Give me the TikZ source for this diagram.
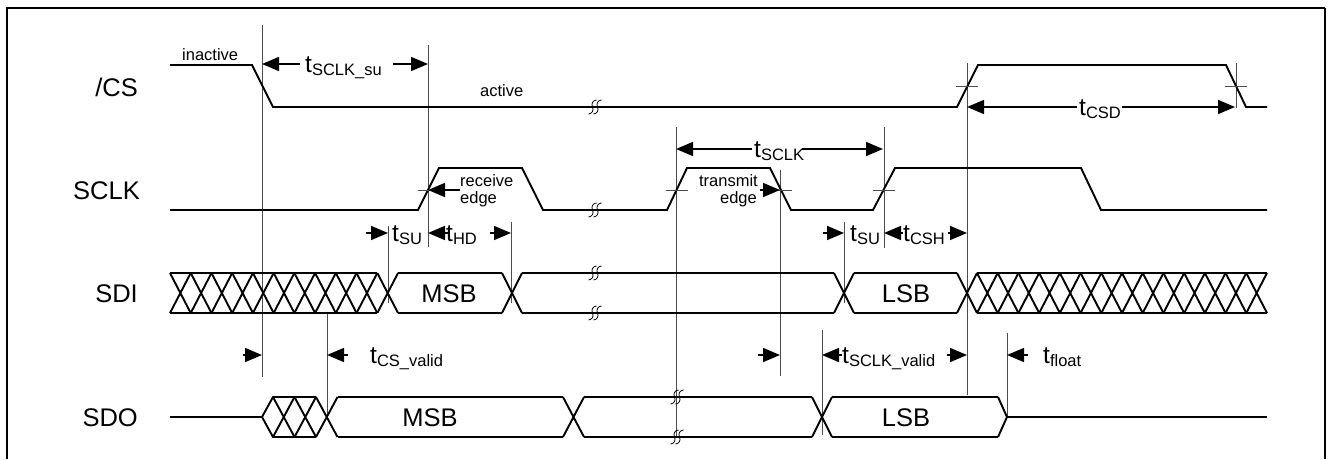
\documentclass[tikz,border=0pt]{standalone}
\usepackage{fontspec}
\setmainfont{Liberation Sans}
\usetikzlibrary{arrows.meta}
\newcommand{\tsub}[1]{{\fontsize{24.5}{24.5}\selectfont t}\raisebox{-3pt}{\fontsize{16.5}{16.5}\selectfont #1}}
\begin{document}
\begin{tikzpicture}[x=1pt,y=-1pt,
  sig/.style={line width=1.9pt},
  vref/.style={line width=0.9pt, black!70},
  tickln/.style={line width=0.9pt, black!70},
  dim/.style={line width=1.6pt, -{Triangle[length=17pt,width=14pt]}},
  big/.style={font=\fontsize{25.5}{25.5}\selectfont, inner sep=0pt},
  small/.style={font=\fontsize{16.5}{16.5}\selectfont, inner sep=0pt},
  tlab/.style={inner sep=0pt, anchor=base west},
  brkstroke/.style={line width=0.8pt},
  brk/.pic={
    \draw[brkstroke] (-6.5,7) .. controls (-2.9,6.75) and (-0.9,3.25) .. (-2.5,0) .. controls (-4.1,-3.25) and (-2.1,-6.75) .. (1.5,-7);
    \draw[brkstroke] (-1.5,7) .. controls (2.1,6.75) and (4.1,3.25) .. (2.5,0) .. controls (0.9,-3.25) and (2.9,-6.75) .. (6.5,-7);
  }]
\useasboundingbox (0,0) rectangle (1328,459);
% frame
\draw[line width=2pt] (6.5,459) -- (6.5,7.5) -- (1325,7.5);
\draw[line width=1.2pt] (1325,7.5) -- (1325,459);

% signal names
\node[big, anchor=base east] (lcs) at (138,96) {/CS};
\node[big, anchor=base east] (lsclk) at (140,199) {SCLK};
\node[big, anchor=base east] (lsdi) at (138,302) {SDI};
\node[big, anchor=base east] (lsdo) at (138,426) {SDO};

% reference verticals
\draw[vref] (262,25) -- (262,377);
\draw[vref] (428,45) -- (428,247);
\draw[vref] (388,226) -- (388,303);
\draw[vref] (511,222) -- (511,303);
\draw[vref] (327,313) -- (327,418);
\draw[vref] (676,127) -- (676,438);
\draw[vref] (780,170) -- (780,376);
\draw[vref] (884,127) -- (884,248);
\draw[vref] (844,222) -- (844,303);
\draw[vref] (822,330) -- (822,435);
\draw[vref] (967,63) -- (967,395);
\draw[vref] (1236,63) -- (1236,108);
\draw[vref] (1007,333) -- (1007,418);

% /CS
\draw[sig] (170,65) -- (252,65) -- (273,107) -- (957,107) -- (978,65) -- (1226,65) -- (1246,107) -- (1267,107);
\pic at (595,107) {brk};
\draw[tickln] (956,86) -- (978,86);
\draw[tickln] (1225,86) -- (1247,86);
\node[small, anchor=base west] (inact) at (182,60) {inactive};
\node[small, anchor=base west] (act) at (480,96) {active};

% SCLK
\draw[sig] (170,210) -- (418,210) -- (439,168) -- (522,168) -- (543,210) -- (667,210) -- (687,168) -- (770,168) -- (791,210) -- (873,210) -- (895,168) -- (1081,168) -- (1101,210) -- (1267,210);
\pic at (595,210) {brk};
\draw[tickln] (418,190) -- (440,190);
\draw[tickln] (666,190) -- (688,190);
\draw[tickln] (768,190) -- (792,190);
\draw[tickln] (873,190) -- (895,190);
\node[small, anchor=base west] (rec1) at (460,186) {receive};
\node[small, anchor=base west] (rec2) at (460,203) {edge};
\node[small, anchor=base east] (tra1) at (758,186) {transmit};
\node[small, anchor=base east] (tra2) at (757,203) {edge};
\draw[dim] (460,190) -- (428,190);
\draw[dim] (760,190) -- (780,190);

% SDI
\foreach \a/\b in {170/377.3, 398/502, 522/834, 854/957, 977/1267} {
  \draw[sig] (\a,273) -- (\b,273);
  \draw[sig] (\a,313) -- (\b,313);
}
\foreach \k in {0,...,10} {
  \pgfmathsetmacro\xa{170+20.73*\k}
  \pgfmathsetmacro\xb{\xa+20.73}
  \draw[sig] (\xa,273) -- (\xb,313) (\xa,313) -- (\xb,273);
}
\foreach \a/\b in {502/522, 834/854, 957/977} {
  \draw[sig] (\a,273) -- (\b,313) (\a,313) -- (\b,273);
}
\foreach \k in {0,...,13} {
  \pgfmathsetmacro\xa{977+20.714*\k}
  \pgfmathsetmacro\xb{\xa+20.714}
  \draw[sig] (\xa,273) -- (\xb,313) (\xa,313) -- (\xb,273);
}
\pic at (595,273) {brk};
\pic at (595,313) {brk};
\node[big, anchor=base] (msbi) at (449,302) {MSB};
\node[big, anchor=base] (lsbi) at (906,302) {LSB};

% SDO
\draw[sig] (170,417) -- (262,417) -- (273,397) -- (316,397);
\draw[sig] (262,417) -- (273,437) -- (316,437);
\foreach \k in {0,1,2} {
  \pgfmathsetmacro\xa{273+21.5*\k}
  \pgfmathsetmacro\xb{\xa+21.5}
  \draw[sig] (\xa,397) -- (\xb,437) (\xa,437) -- (\xb,397);
}
\foreach \a/\b in {337.5/563, 584/812, 832/998} {
  \draw[sig] (\a,397) -- (\b,397);
  \draw[sig] (\a,437) -- (\b,437);
}
\foreach \a/\b in {563/584, 812/832} {
  \draw[sig] (\a,397) -- (\b,437) (\a,437) -- (\b,397);
}
\draw[sig] (998,397) -- (1007,417) -- (998,437);
\draw[sig] (1007,417) -- (1267,417);
\pic at (677,397) {brk};
\pic at (677,437) {brk};
\node[big, anchor=base] (msbo) at (430,426) {MSB};
\node[big, anchor=base] (lsbo) at (906,426) {LSB};

% timing labels and dimension arrows
\node[tlab] (tsclksu) at (305,72) {\tsub{SCLK\_su}};
\draw[dim] (300,64) -- (262,64);
\draw[dim] (393,64) -- (428,64);

\node[tlab] (tsclk) at (754,157) {\tsub{SCLK}};
\draw[dim] (752,149) -- (676,149);
\draw[dim] (802,149) -- (883,149);

\node[tlab] (tcsd) at (1079,115) {\tsub{CSD}};
\draw[dim] (1077,107) -- (967,107);
\draw[dim] (1122,107) -- (1235,107);

\node[tlab] (tsu1) at (392,241) {\tsub{SU}};
\draw[dim] (366,233) -- (388,233);
\node[tlab] (thd) at (446,241) {\tsub{HD}};
\draw[dim] (448,233) -- (428,233);
\draw[dim] (490,233) -- (511,233);

\node[tlab] (tsu2) at (850,241) {\tsub{SU}};
\draw[dim] (823,233) -- (844,233);
\node[tlab] (tcsh) at (903,241) {\tsub{CSH}};
\draw[dim] (903,233) -- (884,233);
\draw[dim] (948,233) -- (967,233);

\node[tlab] (tcsv) at (370,363) {\tsub{CS\_valid}};
\draw[dim] (243,355) -- (262,355);
\draw[dim] (348,355) -- (327,355);

\node[tlab] (tsclkv) at (842,363) {\tsub{SCLK\_valid}};
\draw[dim] (758,355) -- (780,355);
\draw[dim] (842,355) -- (822,355);
\draw[dim] (947,355) -- (967,355);

\node[tlab] (tfloat) at (1043,363) {\tsub{float}};
\draw[dim] (1028,355) -- (1007,355);
\end{tikzpicture}
\end{document}
